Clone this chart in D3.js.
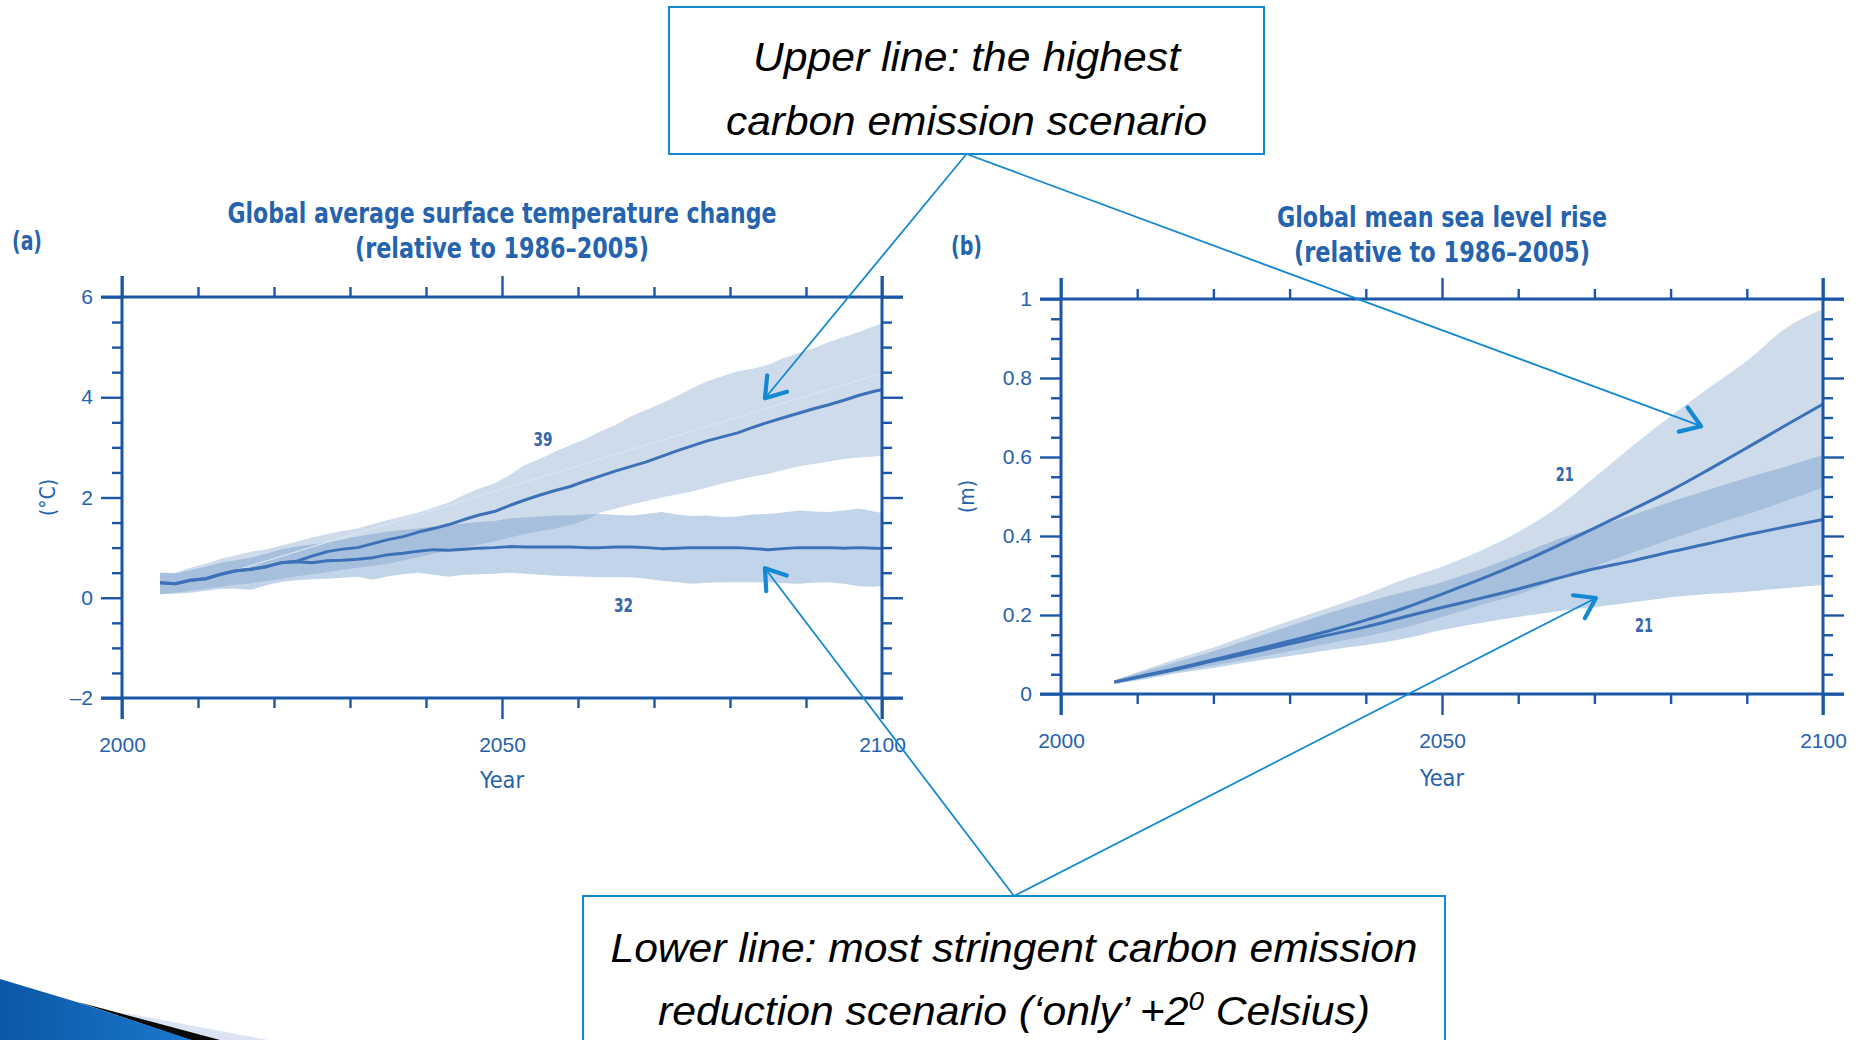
<!DOCTYPE html>
<html>
<head>
<meta charset="utf-8">
<script src="https://cdn.jsdelivr.net/npm/d3@7"></script>
<style>
  html, body { margin: 0; padding: 0; background: #fff; }
  svg { display: block; }
</style>
</head>
<body>
<svg id="chart" width="1859" height="1040"></svg>
<script>
// ---------------------------------------------------------------
// Panel (a): global average surface temperature change (°C)
// ---------------------------------------------------------------
const tempYears = [2005, 2007, 2009, 2011, 2013, 2015, 2017, 2019, 2021, 2023,
  2025, 2027, 2029, 2031, 2033, 2035, 2037, 2039, 2041, 2043,
  2045, 2047, 2049, 2051, 2053, 2055, 2057, 2059, 2061, 2063,
  2065, 2067, 2069, 2071, 2073, 2075, 2077, 2079, 2081, 2083,
  2085, 2087, 2089, 2091, 2093, 2095, 2097, 2099, 2100];

// highest emission scenario: mean and model range
const tempHighMean = [0.30, 0.28, 0.35, 0.38, 0.47, 0.54, 0.57, 0.62, 0.70, 0.73,
  0.83, 0.92, 0.97, 1.00, 1.08, 1.16, 1.22, 1.31, 1.38, 1.46,
  1.56, 1.65, 1.72, 1.84, 1.95, 2.05, 2.14, 2.22, 2.33, 2.43,
  2.53, 2.62, 2.71, 2.82, 2.93, 3.03, 3.13, 3.21, 3.29, 3.40,
  3.50, 3.59, 3.68, 3.77, 3.85, 3.94, 4.04, 4.12, 4.15];
const tempHighMax = [0.50, 0.50, 0.60, 0.68, 0.78, 0.85, 0.92, 0.97, 1.04, 1.12,
  1.20, 1.27, 1.33, 1.38, 1.47, 1.55, 1.62, 1.70, 1.80, 1.90,
  2.05, 2.18, 2.28, 2.45, 2.65, 2.77, 2.92, 3.04, 3.17, 3.32,
  3.45, 3.62, 3.75, 3.88, 4.02, 4.18, 4.32, 4.42, 4.52, 4.57,
  4.65, 4.78, 4.88, 4.98, 5.10, 5.20, 5.30, 5.42, 5.47];
const tempHighMin = [0.07, 0.10, 0.14, 0.18, 0.22, 0.26, 0.29, 0.33, 0.38, 0.43,
  0.47, 0.51, 0.56, 0.60, 0.64, 0.68, 0.75, 0.81, 0.88, 0.94,
  1.00, 1.06, 1.12, 1.20, 1.27, 1.33, 1.38, 1.45, 1.55, 1.70,
  1.78, 1.86, 1.93, 2.00, 2.06, 2.12, 2.20, 2.28, 2.35, 2.42,
  2.47, 2.55, 2.62, 2.67, 2.72, 2.77, 2.80, 2.82, 2.83];

// most stringent reduction scenario: mean and model range
const tempLowMean = [0.30, 0.28, 0.35, 0.38, 0.47, 0.54, 0.57, 0.62, 0.70, 0.72,
  0.70, 0.74, 0.75, 0.77, 0.80, 0.86, 0.89, 0.93, 0.96, 0.95,
  0.97, 0.99, 1.00, 1.02, 1.01, 1.01, 1.01, 1.01, 1.00, 1.00,
  1.01, 1.01, 1.00, 0.98, 0.99, 1.00, 1.00, 1.00, 1.00, 0.98,
  0.96, 0.98, 1.00, 1.00, 1.00, 0.99, 1.00, 0.99, 0.98];
const tempLowMax = [0.50, 0.48, 0.55, 0.62, 0.70, 0.75, 0.80, 0.88, 0.97, 1.02,
  1.06, 1.10, 1.16, 1.22, 1.27, 1.32, 1.35, 1.38, 1.42, 1.45,
  1.48, 1.51, 1.53, 1.58, 1.60, 1.62, 1.64, 1.64, 1.66, 1.67,
  1.65, 1.64, 1.67, 1.71, 1.66, 1.63, 1.64, 1.61, 1.62, 1.66,
  1.67, 1.70, 1.74, 1.72, 1.71, 1.74, 1.78, 1.72, 1.69];
const tempLowMin = [0.07, 0.08, 0.10, 0.14, 0.18, 0.18, 0.16, 0.25, 0.32, 0.35,
  0.37, 0.38, 0.40, 0.42, 0.36, 0.43, 0.47, 0.50, 0.46, 0.42,
  0.46, 0.47, 0.48, 0.50, 0.48, 0.46, 0.44, 0.43, 0.42, 0.41,
  0.41, 0.41, 0.38, 0.34, 0.31, 0.28, 0.30, 0.31, 0.31, 0.31,
  0.31, 0.29, 0.28, 0.30, 0.31, 0.28, 0.23, 0.22, 0.24];

// faint straight guide inside the upper range
const tempTrendYears = [2015, 2100];
const tempTrendValues = [0.55, 4.48];

const tempTicksMajor = [-2, 0, 2, 4, 6];
const tempTicksMinor = [-1.5, -1, -0.5, 0.5, 1, 1.5, 2.5, 3, 3.5, 4.5, 5, 5.5];
const tempModelCounts = [{ text: "39", year: 2055.4, value: 3.17 }, { text: "32", year: 2066, value: -0.15 }];

// ---------------------------------------------------------------
// Panel (b): global mean sea level rise (m)
// ---------------------------------------------------------------
const seaYears = [2007, 2010, 2015, 2020, 2025, 2030, 2035, 2040, 2045, 2050,
  2055, 2060, 2065, 2070, 2075, 2080, 2085, 2090, 2095, 2100];
const seaHighMean = [0.030, 0.043, 0.064, 0.087, 0.110, 0.134, 0.159, 0.187, 0.217, 0.253,
  0.290, 0.330, 0.374, 0.420, 0.467, 0.515, 0.568, 0.623, 0.679, 0.734];
const seaHighMax = [0.035, 0.055, 0.088, 0.118, 0.152, 0.185, 0.217, 0.252, 0.290, 0.322,
  0.362, 0.410, 0.470, 0.548, 0.628, 0.703, 0.775, 0.843, 0.925, 0.975];
const seaHighMin = [0.027, 0.037, 0.055, 0.072, 0.090, 0.108, 0.128, 0.146, 0.168, 0.195,
  0.225, 0.252, 0.288, 0.323, 0.358, 0.392, 0.425, 0.455, 0.488, 0.523];
const seaLowMean = [0.030, 0.042, 0.062, 0.084, 0.105, 0.127, 0.149, 0.170, 0.195, 0.219,
  0.242, 0.266, 0.292, 0.317, 0.337, 0.360, 0.381, 0.403, 0.423, 0.442];
const seaLowMax = [0.035, 0.052, 0.080, 0.108, 0.140, 0.172, 0.204, 0.232, 0.258, 0.283,
  0.315, 0.352, 0.390, 0.420, 0.453, 0.486, 0.517, 0.547, 0.575, 0.605];
const seaLowMin = [0.025, 0.034, 0.052, 0.066, 0.082, 0.096, 0.111, 0.124, 0.140, 0.162,
  0.180, 0.195, 0.209, 0.220, 0.232, 0.245, 0.253, 0.259, 0.268, 0.276];

const seaTicksMajor = [0, 0.2, 0.4, 0.6, 0.8, 1];
const seaTicksMinor = [0.05, 0.1, 0.15, 0.25, 0.3, 0.35, 0.45, 0.5, 0.55, 0.65, 0.7, 0.75, 0.85, 0.9, 0.95];
const seaModelCounts = [{ text: "21", year: 2066.1, value: 0.557 }, { text: "21", year: 2076.5, value: 0.175 }];

const yearTicksMajor = [2000, 2050, 2100];
const yearTicksMinor = [2010, 2020, 2030, 2040, 2060, 2070, 2080, 2090];

// ---------------------------------------------------------------
// Styling
// ---------------------------------------------------------------
const AXIS = "#1b56a6";
const LABEL = "#2661ad";
const TITLE = "#2563ae";
const LINE = "#3d71b7";
const BAND_HIGH = "#cedbeb";
const BAND_LOW = "#c2d4e9";
const BAND_BOTH = "#a5bfdd";
const NOTE = "#1388d3";
const NARROW = "'Liberation Sans Narrow', 'DejaVu Sans Condensed', 'Liberation Sans', sans-serif";
const SANS = "'Liberation Sans', Arial, sans-serif";

const svg = d3.select("#chart");
svg.append("rect").attr("width", 1859).attr("height", 1040).attr("fill", "#fff");

const panelA = { left: 122, right: 882, top: 297, bottom: 698 };
const panelB = { left: 1061, right: 1823, top: 299, bottom: 694 };

const xA = d3.scaleLinear().domain([2000, 2100]).range([panelA.left, panelA.right]);
const yA = d3.scaleLinear().domain([-2, 6]).range([panelA.bottom, panelA.top]);
const xB = d3.scaleLinear().domain([2000, 2100]).range([panelB.left, panelB.right]);
const yB = d3.scaleLinear().domain([0, 1]).range([panelB.bottom, panelB.top]);

let clipCount = 0;

function drawSeries(x, y, years, hiMean, hiMin, hiMax, loMean, loMin, loMax, curve) {
  const g = svg.append("g");
  const rowsHi = years.map((t, i) => ({ t, lo: hiMin[i], hi: hiMax[i], m: hiMean[i] }));
  const rowsLo = years.map((t, i) => ({ t, lo: loMin[i], hi: loMax[i], m: loMean[i] }));
  const area = d3.area().x(d => x(d.t)).y0(d => y(d.lo)).y1(d => y(d.hi)).curve(curve);
  const line = d3.line().x(d => x(d.t)).y(d => y(d.m)).curve(curve);

  g.append("path").attr("d", area(rowsHi)).attr("fill", BAND_HIGH);
  g.append("path").attr("d", area(rowsLo)).attr("fill", BAND_LOW);

  // overlap of both ranges, drawn darker
  const id = "overlap" + (clipCount++);
  svg.append("clipPath").attr("id", id).append("path").attr("d", area(rowsHi));
  g.append("path").attr("d", area(rowsLo)).attr("fill", BAND_BOTH).attr("clip-path", `url(#${id})`);

  return { g, line, rowsHi, rowsLo };
}

function drawLines(s) {
  [s.rowsLo, s.rowsHi].forEach(rows => {
    s.g.append("path").attr("d", s.line(rows)).attr("fill", "none")
      .attr("stroke", LINE).attr("stroke-width", 3).attr("stroke-linejoin", "round");
  });
}

function addAxis(gen, tx, ty, values, size, pad, fmt) {
  const a = gen.tickValues(values).tickSizeInner(size).tickSizeOuter(0)
    .tickPadding(pad).tickFormat(fmt || (() => ""));
  const ga = svg.append("g").attr("transform", `translate(${tx},${ty})`).call(a);
  ga.attr("font-family", null).attr("font-size", null);
  ga.select(".domain").remove();
  ga.selectAll(".tick line").attr("stroke", AXIS).attr("stroke-width", 2.4);
  ga.selectAll(".tick text").attr("fill", LABEL)
    .style("font-family", SANS).style("font-size", "21px");
  return ga;
}

function drawFrame(p, x, y, yMajor, yMinor, yFmt) {
  addAxis(d3.axisLeft(y), p.left, 0, yMinor, 10, 0);
  addAxis(d3.axisLeft(y), p.left, 0, yMajor, 21, 8, yFmt);
  addAxis(d3.axisRight(y), p.right, 0, yMinor, 10, 0);
  addAxis(d3.axisRight(y), p.right, 0, yMajor, 21, 0);
  addAxis(d3.axisTop(x), 0, p.top, yearTicksMinor, 10, 0);
  addAxis(d3.axisTop(x), 0, p.top, yearTicksMajor, 21, 0);
  addAxis(d3.axisBottom(x), 0, p.bottom, yearTicksMinor, 10, 0);
  addAxis(d3.axisBottom(x), 0, p.bottom, yearTicksMajor, 21, 18, d3.format("d"));

  const ext = 21;
  const f = svg.append("g").attr("stroke", AXIS).attr("stroke-width", 3).attr("stroke-linecap", "butt");
  f.append("line").attr("x1", p.left).attr("x2", p.left).attr("y1", p.top - ext).attr("y2", p.bottom + ext);
  f.append("line").attr("x1", p.right).attr("x2", p.right).attr("y1", p.top - ext).attr("y2", p.bottom + ext);
  f.append("line").attr("x1", p.left - ext).attr("x2", p.right + ext).attr("y1", p.top).attr("y2", p.top);
  f.append("line").attr("x1", p.left - ext).attr("x2", p.right + ext).attr("y1", p.bottom).attr("y2", p.bottom);
}

function label(txt, x, y, opts) {
  const t = svg.append("text").attr("x", x).attr("y", y).text(txt)
    .attr("fill", opts.fill || TITLE)
    .style("font-family", opts.family || NARROW)
    .style("font-size", opts.size + "px")
    .style("font-weight", opts.weight || "normal")
    .attr("text-anchor", opts.anchor || "middle");
  if (opts.len) t.attr("textLength", opts.len).attr("lengthAdjust", "spacingAndGlyphs");
  if (opts.rotate) t.attr("transform", `rotate(-90,${x},${y})`);
  return t;
}

// ---------------- panel (a) ----------------
const sA = drawSeries(xA, yA, tempYears, tempHighMean, tempHighMin, tempHighMax,
  tempLowMean, tempLowMin, tempLowMax, d3.curveLinear);
sA.g.append("path")
  .attr("d", d3.line().x((d, i) => xA(tempTrendYears[i])).y(d => yA(d))(tempTrendValues))
  .attr("stroke", "#d9e4f1").attr("stroke-width", 1.3).attr("fill", "none");
drawLines(sA);
drawFrame(panelA, xA, yA, tempTicksMajor, tempTicksMinor, d => d < 0 ? "\u2013" + Math.abs(d) : String(d));

tempModelCounts.forEach(c => label(c.text, xA(c.year), yA(c.value) + 7,
  { size: 20, fill: "#3567ad", weight: "bold", len: 19 }));

const cxA = (panelA.left + panelA.right) / 2;
label("Global average surface temperature change", cxA, 223, { size: 28, weight: "bold", len: 549 });
label("(relative to 1986\u20132005)", cxA, 258, { size: 28, weight: "bold", len: 294 });
label("(a)", 12, 250, { size: 27, anchor: "start", weight: "bold", len: 30 });
label("Year", cxA, 788, { size: 23, len: 44, fill: LABEL });
label("(\u00b0C)", 55, (panelA.top + panelA.bottom) / 2, { size: 22, rotate: true, len: 37, fill: LABEL });

// ---------------- panel (b) ----------------
const sB = drawSeries(xB, yB, seaYears, seaHighMean, seaHighMin, seaHighMax,
  seaLowMean, seaLowMin, seaLowMax, d3.curveMonotoneX);
drawLines(sB);
drawFrame(panelB, xB, yB, seaTicksMajor, seaTicksMinor, d => String(d));

seaModelCounts.forEach(c => label(c.text, xB(c.year), yB(c.value) + 7,
  { size: 20, fill: "#3567ad", weight: "bold", len: 18 }));

const cxB = (panelB.left + panelB.right) / 2;
label("Global mean sea level rise", cxB, 227, { size: 28, weight: "bold", len: 330 });
label("(relative to 1986\u20132005)", cxB, 262, { size: 28, weight: "bold", len: 296 });
label("(b)", 951, 255, { size: 27, anchor: "start", weight: "bold", len: 31 });
label("Year", cxB, 786, { size: 23, len: 44, fill: LABEL });
label("(m)", 974, (panelB.top + panelB.bottom) / 2, { size: 22, rotate: true, len: 33, fill: LABEL });

// ---------------- scenario notes with pointers ----------------
const boxUpper = { x: 669, y: 7, w: 595, h: 147 };
const boxLower = { x: 583, y: 896, w: 862, h: 160 };

function pointer(from, to) {
  const g = svg.append("g").attr("stroke", NOTE).attr("fill", "none");
  g.append("line").attr("x1", from[0]).attr("y1", from[1]).attr("x2", to[0]).attr("y2", to[1])
    .attr("stroke-width", 1.8);
  const ang = Math.atan2(from[1] - to[1], from[0] - to[0]);
  const len = 23, spread = 34 * Math.PI / 180;
  const p1 = [to[0] + len * Math.cos(ang + spread), to[1] + len * Math.sin(ang + spread)];
  const p2 = [to[0] + len * Math.cos(ang - spread), to[1] + len * Math.sin(ang - spread)];
  g.append("path").attr("d", `M${p1[0]},${p1[1]}L${to[0]},${to[1]}L${p2[0]},${p2[1]}`)
    .attr("stroke-width", 4.2).attr("stroke-linecap", "round").attr("stroke-linejoin", "round");
}

const anchorUpper = [boxUpper.x + boxUpper.w / 2, boxUpper.y + boxUpper.h];
const anchorLower = [boxLower.x + boxLower.w / 2, boxLower.y];
pointer(anchorUpper, [xA(2084.6), yA(3.98)]);
pointer(anchorUpper, [xB(2084.0), yB(0.678)]);
pointer(anchorLower, [xA(2084.6), yA(0.59)]);
pointer(anchorLower, [xB(2070.2), yB(0.243)]);

svg.append("rect").attr("x", boxUpper.x).attr("y", boxUpper.y).attr("width", boxUpper.w).attr("height", boxUpper.h)
  .attr("fill", "#fff").attr("stroke", NOTE).attr("stroke-width", 2);
svg.append("rect").attr("x", boxLower.x).attr("y", boxLower.y).attr("width", boxLower.w).attr("height", boxLower.h)
  .attr("fill", "#fff").attr("stroke", NOTE).attr("stroke-width", 2);

const noteFont = { size: 40, family: SANS, fill: "#000" };
const cu = boxUpper.x + boxUpper.w / 2;
label("Upper line: the highest", cu, 71, { ...noteFont, len: 427 }).style("font-style", "italic");
label("carbon emission scenario", cu, 135, { ...noteFont, len: 481 }).style("font-style", "italic");
const cl = boxLower.x + boxLower.w / 2;
label("Lower line: most stringent carbon emission", cl, 962, { ...noteFont, len: 807 }).style("font-style", "italic");
const last = svg.append("text").attr("x", cl).attr("y", 1025).attr("text-anchor", "middle")
  .style("font-family", SANS).style("font-size", "40px").style("font-style", "italic").attr("fill", "#000")
  .attr("textLength", 712).attr("lengthAdjust", "spacingAndGlyphs");
last.append("tspan").text("reduction scenario (\u2018only\u2019 +2");
last.append("tspan").text("0").attr("dy", -15).style("font-size", "26px");
last.append("tspan").text(" Celsius)").attr("dy", 15);

// ---------------- slide corner ornament ----------------
const orn = svg.append("g");
const grad = svg.append("defs").append("linearGradient").attr("id", "swoosh")
  .attr("x1", "0%").attr("x2", "100%");
grad.append("stop").attr("offset", "0%").attr("stop-color", "#0b57a6");
grad.append("stop").attr("offset", "100%").attr("stop-color", "#1b78cc");
orn.append("path").attr("d", "M120,1012 L268,1040 L200,1040 Z").attr("fill", "#dbe4f3");
orn.append("path").attr("d", "M78,1002 L220,1040 L190,1040 Z").attr("fill", "#0a0a0a");
orn.append("path").attr("d", "M0,979 L80,1003 L192,1040 L0,1040 Z").attr("fill", "url(#swoosh)");
</script>
</body>
</html>
